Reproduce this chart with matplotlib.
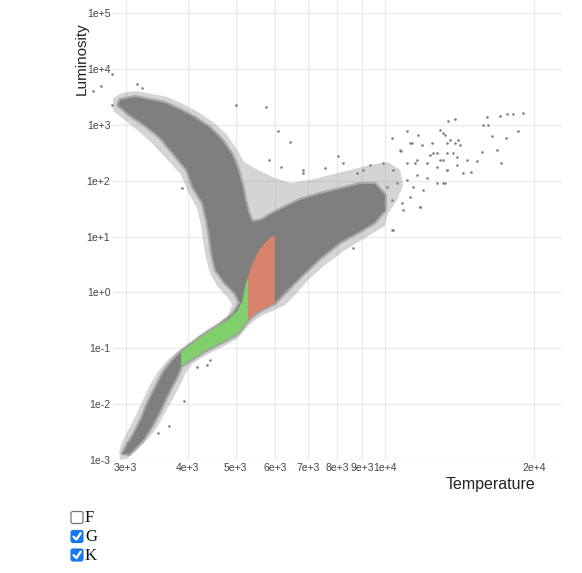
import numpy as np
import matplotlib
matplotlib.use('Agg')
import matplotlib.pyplot as plt
from matplotlib.patches import FancyBboxPatch

# ---- data (log10 of temperature [K] and luminosity [Lsun]) ----
# dense body of the gray star cloud (outline)
core_log_temp = [3.698, 3.708, 3.694, 3.663, 3.637, 3.613, 3.589, 3.571, 3.554, 3.538,
                 3.522, 3.508, 3.492, 3.478, 3.472, 3.484, 3.510, 3.530, 3.546, 3.558,
                 3.571, 3.583, 3.589, 3.611, 3.633, 3.655, 3.680, 3.704, 3.724, 3.740,
                 3.758, 3.778, 3.799, 3.829, 3.869, 3.910, 3.950, 3.980, 4.000, 4.000,
                 3.980, 3.950, 3.910, 3.869, 3.829, 3.799, 3.768, 3.752, 3.732, 3.724,
                 3.718, 3.712, 3.704, 3.692, 3.671, 3.647, 3.617, 3.587, 3.556, 3.526,
                 3.496, 3.466, 3.462, 3.486, 3.516, 3.546, 3.573, 3.601, 3.613, 3.633,
                 3.641, 3.647, 3.651, 3.659, 3.678]
core_log_lum = [-0.009, -0.188, -0.385, -0.600, -0.744, -0.905, -1.066, -1.227, -1.424, -1.693,
                -1.979, -2.284, -2.570, -2.767, -2.875, -2.893, -2.660, -2.391, -2.122, -1.890,
                -1.657, -1.460, -1.317, -1.191, -1.066, -0.959, -0.851, -0.726, -0.493, -0.368,
                -0.278, -0.188, 0.009, 0.277, 0.617, 0.904, 1.101, 1.262, 1.477, 1.746,
                1.943, 1.943, 1.853, 1.764, 1.656, 1.531, 1.388, 1.298, 1.262, 1.441,
                1.656, 1.925, 2.193, 2.462, 2.731, 2.946, 3.125, 3.268, 3.393, 3.447,
                3.501, 3.447, 3.357, 3.178, 2.999, 2.784, 2.498, 2.193, 1.889, 1.602,
                1.298, 0.994, 0.707, 0.403, 0.170]

# looser fringe of stars hugging the body (outline)
halo_log_temp = [3.445, 3.470, 3.500, 3.530, 3.562, 3.593, 3.623, 3.653, 3.680, 3.700,
                 3.716, 3.744, 3.778, 3.809, 3.849, 3.889, 3.930, 3.970, 4.006, 4.031,
                 4.037, 4.025, 4.006, 4.000, 3.960, 3.920, 3.879, 3.845, 3.819, 3.799,
                 3.778, 3.758, 3.738, 3.724, 3.704, 3.680, 3.655, 3.633, 3.611, 3.599,
                 3.587, 3.571, 3.556, 3.540, 3.520, 3.500, 3.482, 3.466, 3.464, 3.468,
                 3.480, 3.496, 3.512, 3.526, 3.542, 3.558, 3.577, 3.599, 3.627, 3.655,
                 3.682, 3.692, 3.684, 3.663, 3.647, 3.639, 3.633, 3.629, 3.621, 3.603,
                 3.589, 3.558, 3.530, 3.500, 3.470, 3.445]
halo_log_lum = [3.447, 3.572, 3.608, 3.554, 3.501, 3.375, 3.232, 3.053, 2.838, 2.587,
                2.337, 2.193, 2.050, 1.961, 2.014, 2.104, 2.193, 2.283, 2.337, 2.193,
                1.925, 1.656, 1.405, 1.190, 0.976, 0.761, 0.492, 0.223, -0.045, -0.224,
                -0.314, -0.385, -0.493, -0.600, -0.815, -0.941, -1.048, -1.156, -1.281, -1.424,
                -1.657, -1.925, -2.158, -2.427, -2.642, -2.821, -2.964, -3.000, -2.857, -2.713,
                -2.499, -2.230, -1.925, -1.657, -1.424, -1.245, -1.084, -0.941, -0.762, -0.600,
                -0.439, -0.224, -0.099, 0.098, 0.349, 0.617, 0.940, 1.208, 1.513, 1.799,
                2.104, 2.408, 2.677, 2.910, 3.125, 3.304]

# isolated stars
lone_log_temp = [3.411, 3.427, 3.449, 3.449, 3.470, 3.500, 3.510, 3.700, 3.760, 3.784,
                 3.809, 3.766, 3.791, 3.835, 4.279, 4.259, 4.247, 4.232, 4.206, 4.198,
                 4.208, 4.142, 4.127, 4.269, 4.245, 4.216, 4.226, 4.234, 4.196, 4.186,
                 4.174, 4.158, 4.045, 4.067, 4.014, 4.111, 4.117, 4.148, 4.152, 4.125,
                 4.095, 4.055, 4.033, 4.065, 4.097, 4.111, 4.138, 4.166, 4.146, 4.125,
                 4.117, 4.071, 4.037, 4.014, 3.936, 3.905, 3.879, 3.835, 3.472, 3.482,
                 3.496, 3.512, 3.542, 3.564, 3.595, 3.621, 3.641, 3.647, 3.591,
                 4.121, 4.132, 4.142, 4.051, 4.031, 4.075, 4.091, 4.105, 4.117, 4.125,
                 4.146, 4.045, 4.061, 4.085, 4.105, 4.125, 4.017, 3.996, 3.970, 3.956,
                 3.944, 3.916, 4.065, 4.085, 4.105, 4.121, 4.045, 4.025, 4.004, 4.057,
                 4.077, 4.051, 4.035, 4.071, 4.014, 4.017, 3.990, 3.996, 3.976]
lone_log_lum = [3.608, 3.698, 3.913, 3.357, 3.393, 3.733, 3.662, 3.357, 3.322, 2.892,
                2.695, 2.372, 2.247, 2.193, 3.214, 3.196, 3.196, 3.160, 3.142, 2.999,
                2.999, 3.107, 3.071, 2.892, 2.766, 2.802, 2.552, 2.319, 2.516, 2.355,
                2.158, 2.140, 2.892, 2.820, 2.766, 2.910, 2.856, 2.731, 2.641, 2.677,
                2.677, 2.677, 2.534, 2.372, 2.498, 2.372, 2.498, 2.372, 2.283, 2.193,
                1.961, 1.531, 1.477, 1.119, 0.797, 2.444, 2.229, 2.140, -2.875, -2.696,
                -2.642, -2.588, -2.517, -2.391, -1.943, -1.334, -1.299, -1.209, 1.871,
                2.820, 2.731, 2.677, 2.677, 2.552, 2.641, 2.462, 2.498, 2.372, 2.498,
                2.426, 2.319, 2.319, 2.319, 2.247, 2.193, 2.193, 2.319, 2.283, 2.193,
                2.140, 2.319, 2.104, 2.050, 1.961, 1.961, 2.014, 1.961, 1.889, 1.889,
                1.835, 1.710, 1.602, 1.531, 1.656, 1.119, 1.656, 1.477, 1.799]

# K class (highlighted, green) outline
k_log_temp = [3.589, 3.613, 3.637, 3.663, 3.688, 3.702, 3.712, 3.716, 3.720, 3.724,
              3.724, 3.704, 3.680, 3.655, 3.633, 3.611, 3.589]
k_log_lum = [-1.066, -0.905, -0.744, -0.600, -0.457, -0.332, -0.171, 0.009, 0.170, 0.277,
             -0.493, -0.726, -0.851, -0.959, -1.066, -1.191, -1.317]

# G class (highlighted, salmon) outline
g_log_temp = [3.724, 3.732, 3.744, 3.758, 3.768, 3.778, 3.778, 3.758, 3.740, 3.724]
g_log_lum = [0.277, 0.492, 0.725, 0.886, 0.976, 1.029, -0.188, -0.278, -0.368, -0.493]

x_ticks = [3e3, 4e3, 5e3, 6e3, 7e3, 8e3, 9e3, 1e4, 2e4]
x_tick_labels = ['3e+3', '4e+3', '5e+3', '6e+3', '7e+3', '8e+3', '9e+3', '1e+4', '2e+4']
y_ticks = [1e-3, 1e-2, 1e-1, 1e0, 1e1, 1e2, 1e3, 1e4, 1e5]
y_tick_labels = ['1e-3', '1e-2', '1e-1', '1e+0', '1e+1', '1e+2', '1e+3', '1e+4', '1e+5']

classes = ['F', 'G', 'K']
checked = [False, True, True]

GRAY = '#7f7f7f'
GREEN = '#80cf6c'
SALMON = '#d9836c'


def pow10(vals):
    return 10 ** np.asarray(vals)


W, H = 582, 573
fig = plt.figure(figsize=(W / 100, H / 100), dpi=100)
ax = fig.add_axes([113 / W, 1 - 460 / H, (562 - 113) / W, 460 / H])
ax.set_xscale('log')
ax.set_yscale('log')
ax.set_xlim(2828, 22780)
ax.set_ylim(1e-3, 10 ** 5.2377)

# fringe, then the dense body with a soft half-transparent rim
ax.fill(pow10(halo_log_temp), pow10(halo_log_lum), color=GRAY, alpha=0.33, lw=0, zorder=2)
ax.fill(pow10(core_log_temp), pow10(core_log_lum), fc=GRAY, ec=(0.5, 0.5, 0.5, 0.5),
        lw=3, joinstyle='round', zorder=3)
ax.scatter(pow10(lone_log_temp), pow10(lone_log_lum), s=3.5, color=GRAY, lw=0,
           zorder=3, clip_on=False)
ax.fill(pow10(k_log_temp), pow10(k_log_lum), color=GREEN, lw=0, zorder=4)
ax.fill(pow10(g_log_temp), pow10(g_log_lum), color=SALMON, lw=0, zorder=4)

ax.set_xticks(x_ticks, labels=x_tick_labels)
ax.set_yticks(y_ticks, labels=y_tick_labels)
ax.xaxis.set_minor_locator(matplotlib.ticker.NullLocator())
ax.yaxis.set_minor_locator(matplotlib.ticker.NullLocator())
ax.tick_params(length=0, labelsize=7.5, labelcolor='#444444', pad=2)
for lab in ax.get_xticklabels() + ax.get_yticklabels():
    lab.set_family('Liberation Sans')
ax.grid(True, color='#ebebeb', lw=1)
ax.set_axisbelow(True)
for sp in ax.spines.values():
    sp.set_visible(False)

# axis titles placed like the reference (top of y axis, right end of x axis)
fig.text(81.5 / W, 1 - 58.5 / H, 'Luminosity', rotation=90, ha='center', va='center',
         fontsize=11, family='Liberation Sans', color='#222222')
fig.text(490 / W, 1 - 484 / H, 'Temperature', ha='center', va='center',
         fontsize=11.5, family='Liberation Sans', color='#222222')

# checkbox list under the chart
ov = fig.add_axes([0, 0, 1, 1])
ov.set_xlim(0, W)
ov.set_ylim(H, 0)
ov.axis('off')
row_y = [517.5, 536.5, 555]
for name, on, cy in zip(classes, checked, row_y):
    if on:
        box = FancyBboxPatch((71, cy - 6), 12, 12, boxstyle='round,pad=0,rounding_size=2',
                             fc='#1677ef', ec='#1677ef', lw=0.8)
        ov.add_patch(box)
        ov.plot([73.6, 76.4, 80.6], [cy + 0.2, cy + 3.0, cy - 3.2], color='white',
                lw=1.7, solid_capstyle='round', solid_joinstyle='round')
    else:
        box = FancyBboxPatch((71, cy - 6), 12, 12, boxstyle='round,pad=0,rounding_size=2',
                             fc='white', ec='#767676', lw=0.9)
        ov.add_patch(box)
    ov.text(85, cy + 0.5, name, ha='left', va='center', fontsize=12,
            family='Liberation Serif', color='#111111')

fig.savefig('out.png', dpi=100)
